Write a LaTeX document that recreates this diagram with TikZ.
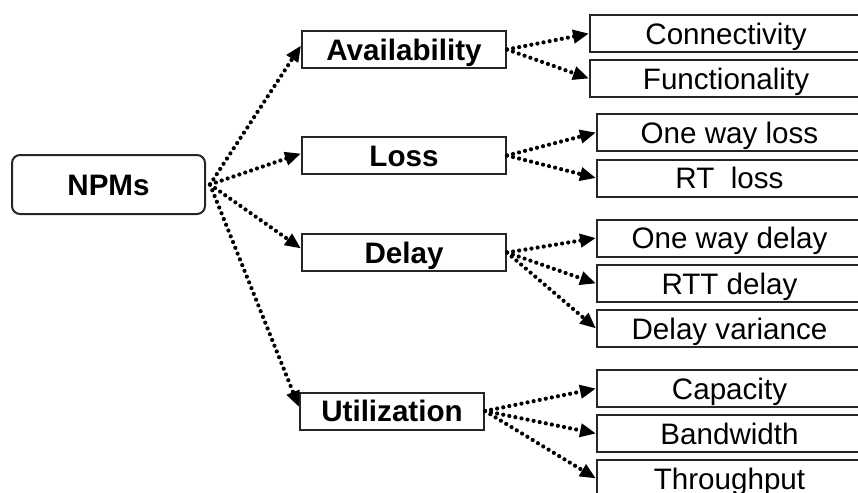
\documentclass[tikz,border=0pt]{standalone}
\usepackage{fontspec}
\setmainfont{Liberation Sans}
\usetikzlibrary{arrows.meta}
\begin{document}
\begin{tikzpicture}[x=0.5pt,y=-0.5pt,
  font=\fontsize{14.8pt}{17pt}\selectfont,
  box/.style={draw=black!85, line width=1pt, inner sep=0pt, minimum height=18.5pt,
    text height=10.6pt, text depth=0pt},
  root/.style={box, rounded corners=4pt, minimum width=96.5pt, minimum height=29.5pt, font=\fontsize{14.8pt}{17pt}\selectfont\bfseries},
  mid/.style={box, minimum width=102pt, font=\fontsize{14.8pt}{17pt}\selectfont\bfseries},
  leafA/.style={box, minimum width=136pt},
  leafB/.style={box, minimum width=132.5pt},
  link/.style={line width=2.1pt, dash pattern=on 0pt off 3.1pt, line cap=round,
    -{Triangle[length=8pt,width=6.5pt]}}]
\useasboundingbox (0,0) rectangle (858,493);
\clip (0,0) rectangle (858,493);

% root
\node[root] (npm) at (108.5,184.5) {NPMs};

% metric groups
\node[mid] (avail) at (404,49.5) {Availability};
\node[mid] (loss)  at (404,155.5) {Loss};
\node[mid] (delay) at (404,252.5) {Delay};
\node[mid, minimum width=92pt] (util) at (392,411) {Utilization};

% individual metrics
\node[leafA] (conn) at (726,33.5) {Connectivity};
\node[leafA] (func) at (726,78.5) {Functionality};
\node[leafB] (owl)  at (729.5,132.5) {One way loss};
\node[leafB] (rtl)  at (729.5,178) {RT~~loss};
\node[leafB] (owd)  at (729.5,238) {One way delay};
\node[leafB] (rttd) at (729.5,283.5) {RTT delay};
\node[leafB] (dv)   at (729.5,328.5) {Delay variance};
\node[leafB] (cap)  at (729.5,388.5) {Capacity};
\node[leafB] (bw)   at (729.5,433.5) {Bandwidth};
\node[leafB] (tp)   at (729.5,478.5) {Throughput};

% links from the root
\draw[link] ([xshift=2pt]npm.east) -- ([yshift=2pt]avail.west);
\draw[link] ([xshift=2pt]npm.east) -- ([yshift=1pt]loss.west);
\draw[link] ([xshift=2pt]npm.east) -- ([yshift=2pt]delay.west);
\draw[link] ([xshift=2pt]npm.east) -- ([yshift=2pt]util.west);

% links to the individual metrics
\draw[link] (avail.east) -- (conn.west);
\draw[link] (avail.east) -- (func.west);
\draw[link] (loss.east) -- (owl.west);
\draw[link] (loss.east) -- (rtl.west);
\draw[link] (delay.east) -- (owd.west);
\draw[link] (delay.east) -- (rttd.west);
\draw[link] (delay.east) -- (dv.west);
\draw[link] (util.east) -- (cap.west);
\draw[link] (util.east) -- (bw.west);
\draw[link] (util.east) -- (tp.west);
\end{tikzpicture}
\end{document}
